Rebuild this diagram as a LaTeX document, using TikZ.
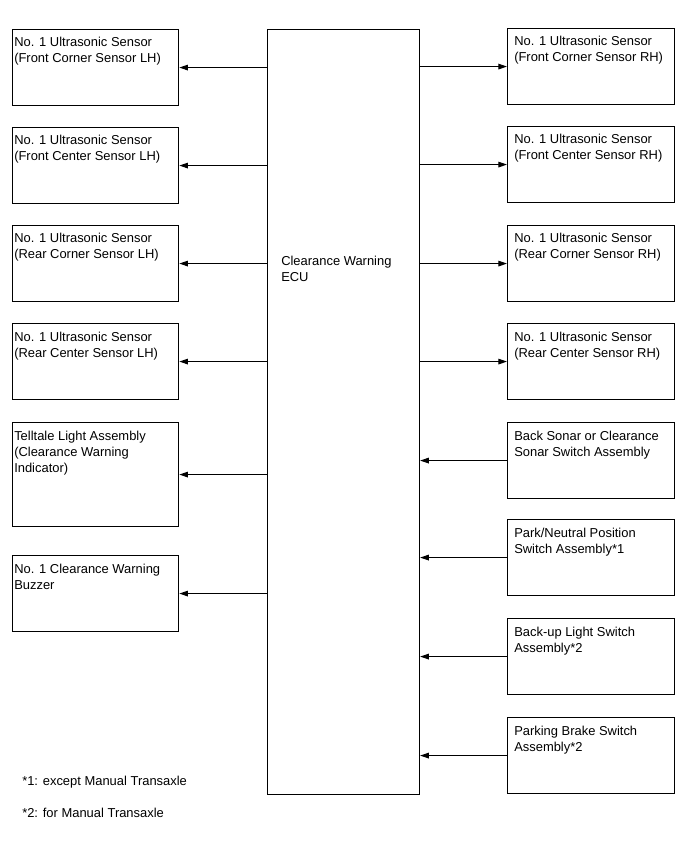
\documentclass[tikz,border=0pt]{standalone}
\usepackage{fontspec}
\setmainfont{Liberation Sans}
\usetikzlibrary{arrows.meta,calc}
\newcommand\mkL[4]{%
  \node[box, minimum height=#3*0.75pt] (#1) at (11.5,#2) {};
  \node[txt] (#1t) at ($(#1.north west)+(2.5,18)$) {\parbox[t]{130pt}{\raggedright #4}};
}
\newcommand\mkR[4]{%
  \node[box, minimum height=#3*0.75pt] (#1) at (507,#2) {};
  \node[txt] (#1t) at ($(#1.north west)+(7,18)$) {\parbox[t]{125pt}{\raggedright #4}};
}
\begin{document}
\begin{tikzpicture}[x=0.75pt,y=-0.75pt,
  box/.style={draw, line width=0.85pt, inner sep=0pt, minimum width=125pt, anchor=north west},
  txt/.style={font=\fontsize{9.7}{12}\selectfont, inner sep=0pt, anchor=base west},
  arr/.style={line width=0.8pt, -{Triangle[length=6.5pt,width=4.2pt]}}]
\useasboundingbox (0,0) rectangle (688,852);
% ECU
\node[box, minimum width=114pt, minimum height=573.75pt] (ecu) at (267,29) {};
\node[txt] (ecut) at (281,265) {\parbox[t]{100pt}{\raggedright Clearance Warning\\ECU}};
% left boxes
\mkL{l1}{29}{76}{No. 1 Ultrasonic Sensor\\(Front Corner Sensor LH)}
\mkL{l2}{127}{76}{No. 1 Ultrasonic Sensor\\(Front Center Sensor LH)}
\mkL{l3}{225}{76}{No. 1 Ultrasonic Sensor\\(Rear Corner Sensor LH)}
\mkL{l4}{323}{76}{No. 1 Ultrasonic Sensor\\(Rear Center Sensor LH)}
\mkL{l5}{422}{104}{Telltale Light Assembly\\(Clearance Warning\\Indicator)}
\mkL{l6}{555}{76}{No. 1 Clearance Warning\\Buzzer}
% right boxes
\mkR{r1}{28}{76}{No. 1 Ultrasonic Sensor\\(Front Corner Sensor RH)}
\mkR{r2}{126}{76}{No. 1 Ultrasonic Sensor\\(Front Center Sensor RH)}
\mkR{r3}{225}{76}{No. 1 Ultrasonic Sensor\\(Rear Corner Sensor RH)}
\mkR{r4}{323}{76}{No. 1 Ultrasonic Sensor\\(Rear Center Sensor RH)}
\mkR{r5}{422}{76}{Back Sonar or Clearance\\Sonar Switch Assembly}
\mkR{r6}{519}{76}{Park/Neutral Position\\Switch Assembly*1}
\mkR{r7}{618}{76}{Back-up Light Switch\\Assembly*2}
\mkR{r8}{717}{76}{Parking Brake Switch\\Assembly*2}
% connectors
\foreach \n in {l1,l2,l3,l4,l5,l6}{
  \draw[arr] (ecu.west |- \n.east) -- (\n.east);
}
\foreach \n in {r1,r2,r3,r4}{
  \draw[arr] (ecu.east |- \n.west) -- (\n.west);
}
\foreach \n in {r5,r6,r7,r8}{
  \draw[arr] (\n.west) -- (ecu.east |- \n.west);
}
% notes
\node[txt] (n1) at (22,785) {*1: except Manual Transaxle};
\node[txt] (n2) at (22,817) {*2: for Manual Transaxle};
\end{tikzpicture}
\end{document}
